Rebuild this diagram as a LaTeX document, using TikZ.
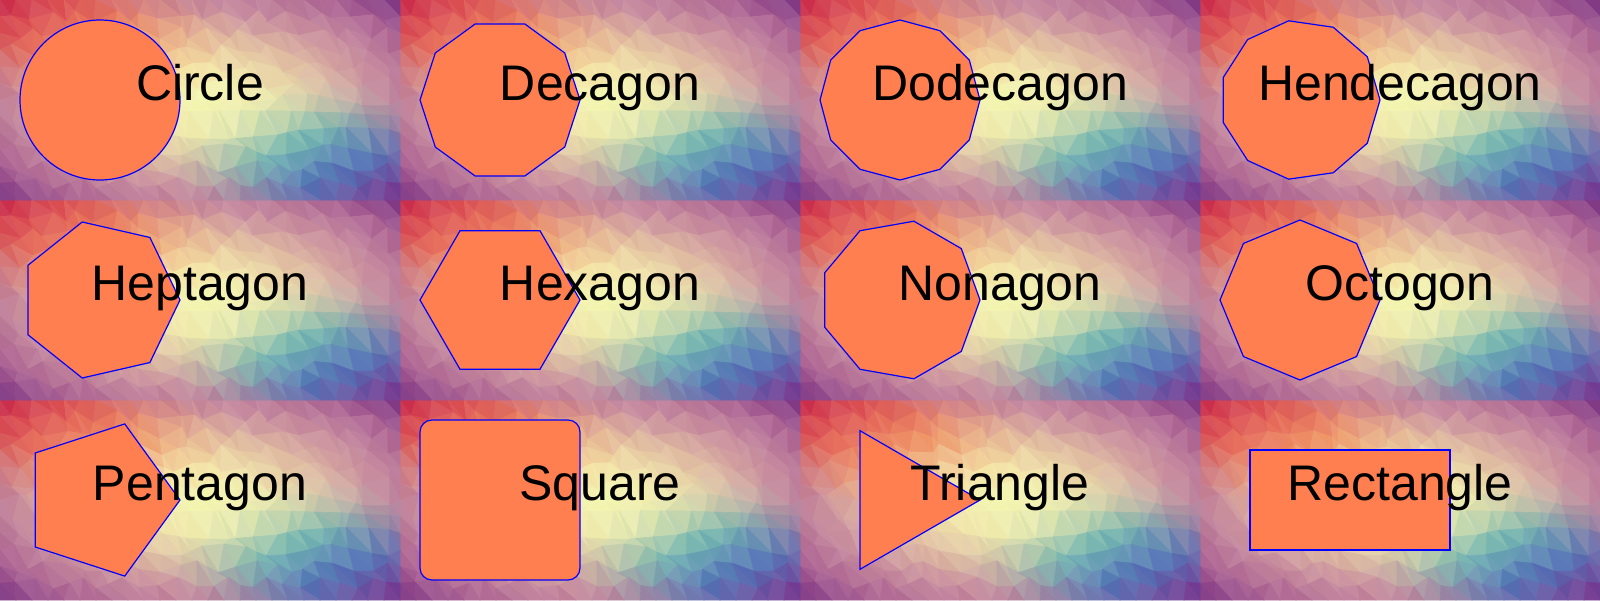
\documentclass[tikz,border=0pt]{standalone}
\usepackage{fontspec}
\setmainfont{Liberation Sans}
\definecolor{shapecoral}{RGB}{255,127,80}
\definecolor{shapeblue}{RGB}{0,0,255}
% radial stops of the background tile (centre to corner)
\definecolor{rad0}{RGB}{242,248,175}
\definecolor{rad1}{RGB}{242,232,170}
\definecolor{rad2}{RGB}{225,190,160}
\definecolor{rad3}{RGB}{203,145,157}
\definecolor{rad4}{RGB}{172,98,145}
\definecolor{rad5}{RGB}{118,45,128}
% rainbow stops along the diagonal
\definecolor{rb0}{RGB}{212,35,65}
\definecolor{rb1}{RGB}{235,95,70}
\definecolor{rb2}{RGB}{246,155,95}
\definecolor{rb3}{RGB}{250,215,150}
\definecolor{rb4}{RGB}{225,248,180}
\definecolor{rb5}{RGB}{95,190,178}
\definecolor{rb6}{RGB}{60,110,185}
\definecolor{rb7}{RGB}{125,45,140}
% jittered grid points of the mosaic
\pgfmathdeclarefunction{jitx}{2}{\pgfmathparse{16*#1+(#1>0)*(#1<25)*(#2>0)*(#2<12)*6*sin(#1*67.3+#2*151.7+#1*#2*23.1)}}
\pgfmathdeclarefunction{jity}{2}{\pgfmathparse{200/12*#2+(#1>0)*(#1<25)*(#2>0)*(#2<12)*6*cos(#1*131.9+#2*97.1+#1*#2*31.3)}}
% colour of the tile at a point of the cell
\newcommand\tilecolor[3]{%
  \pgfmathsetmacro\bgu{(#2-200)/200}%
  \pgfmathsetmacro\bgv{(#3-100)/100}%
  \pgfmathsetmacro\bgr{min(4.9999,veclen(\bgu,\bgv)/1.42*5)}%
  \pgfmathtruncatemacro\bgseg{floor(\bgr)}%
  \pgfmathtruncatemacro\bgnext{\bgseg+1}%
  \pgfmathsetmacro\bgpct{100-100*(\bgr-\bgseg)}%
  \colorlet{bgbase}{rad\bgseg!\bgpct!rad\bgnext}%
  \pgfmathsetmacro\bgt{max(0,min(0.9999,(\bgu+\bgv+2)/4))}%
  \pgfmathtruncatemacro\bgseg{floor(\bgt*7)}%
  \pgfmathtruncatemacro\bgnext{\bgseg+1}%
  \pgfmathsetmacro\bgpct{100-100*(\bgt*7-\bgseg)}%
  \colorlet{bgrain}{rb\bgseg!\bgpct!rb\bgnext}%
  \pgfmathsetmacro\bgd{min(1,abs(\bgu+\bgv))}%
  \pgfmathsetmacro\bgs{max(0,min(1,(abs(\bgu-\bgv)/2-0.1)/0.45))}%
  \pgfmathsetmacro\bgwa{85*\bgd*(1-\bgs*\bgs*(3-2*\bgs))}%
  \pgfmathsetmacro\bgw{100-8*(0.5+0.5*sin(#2*13.1+#3*29.3))}%
  \colorlet{bgtmp}{bgrain!\bgwa!bgbase}%
  \colorlet{#1}{bgtmp!\bgw!white}%
}

\begin{document}
\begin{tikzpicture}[x=1pt,y=-1pt,
  shapefill/.style={fill=shapecoral,draw=shapeblue,line width=1.2},
  shapelabel/.style={font=\fontsize{50}{60}\selectfont,anchor=base,inner sep=0,text=black}]
\useasboundingbox (0,0) rectangle (1600,600);
% Background: one mosaic tile repeated in all twelve cells
\foreach \i in {0,...,24}{
  \foreach \j in {0,...,11}{
    \pgfmathtruncatemacro\ii{\i+1}
    \pgfmathtruncatemacro\jj{\j+1}
    \pgfmathsetmacro\ax{jitx(\i,\j)}\pgfmathsetmacro\ay{jity(\i,\j)}
    \pgfmathsetmacro\bx{jitx(\ii,\j)}\pgfmathsetmacro\by{jity(\ii,\j)}
    \pgfmathsetmacro\cx{jitx(\ii,\jj)}\pgfmathsetmacro\cy{jity(\ii,\jj)}
    \pgfmathsetmacro\dx{jitx(\i,\jj)}\pgfmathsetmacro\dy{jity(\i,\jj)}
    \tilecolor{tria}{(\ax+\bx+\cx)/3}{(\ay+\by+\cy)/3}
    \tilecolor{trib}{(\ax+\cx+\dx)/3}{(\ay+\cy+\dy)/3}
    \foreach \ox in {0,400,800,1200}{
      \foreach \oy in {0,200,400}{
        \filldraw[tria,line width=0.6,line join=round] (\ox+\ax,\oy+\ay) -- (\ox+\bx,\oy+\by) -- (\ox+\cx,\oy+\cy) -- cycle;
        \filldraw[trib,line width=0.6,line join=round] (\ox+\ax,\oy+\ay) -- (\ox+\cx,\oy+\cy) -- (\ox+\dx,\oy+\dy) -- cycle;
      }
    }
  }
}
% Row 1
\draw[shapefill] (100,100) circle (80);
\node[shapelabel] (circle) at (200,100) {Circle};
\draw[shapefill] (580,100) \foreach \k in {1,...,9}{ -- ([shift={(500,100)}]\k*36:80)} -- cycle;
\node[shapelabel] (decagon) at (600,100) {Decagon};
\draw[shapefill] (980,100) \foreach \k in {1,...,11}{ -- ([shift={(900,100)}]\k*30:80)} -- cycle;
\node[shapelabel] (dodecagon) at (1000,100) {Dodecagon};
\draw[shapefill] (1380,100) \foreach \k in {1,...,10}{ -- ([shift={(1300,100)}]\k*360/11:80)} -- cycle;
\node[shapelabel] (hendecagon) at (1400,100) {Hendecagon};
% Row 2
\draw[shapefill] (180,300) \foreach \k in {1,...,6}{ -- ([shift={(100,300)}]\k*360/7:80)} -- cycle;
\node[shapelabel] (heptagon) at (200,300) {Heptagon};
\draw[shapefill] (580,300) \foreach \k in {1,...,5}{ -- ([shift={(500,300)}]\k*60:80)} -- cycle;
\node[shapelabel] (hexagon) at (600,300) {Hexagon};
\draw[shapefill] (980,300) \foreach \k in {1,...,8}{ -- ([shift={(900,300)}]\k*40:80)} -- cycle;
\node[shapelabel] (nonagon) at (1000,300) {Nonagon};
\draw[shapefill] (1380,300) \foreach \k in {1,...,7}{ -- ([shift={(1300,300)}]\k*45:80)} -- cycle;
\node[shapelabel] (octogon) at (1400,300) {Octogon};
% Row 3
\draw[shapefill] (180,500) \foreach \k in {1,...,4}{ -- ([shift={(100,500)}]\k*72:80)} -- cycle;
\node[shapelabel] (pentagon) at (200,500) {Pentagon};
\draw[shapefill,rounded corners=12] (420,420) rectangle (580,580);
\node[shapelabel] (square) at (600,500) {Square};
\draw[shapefill] (980,500) -- ([shift={(900,500)}]120:80) -- ([shift={(900,500)}]240:80) -- cycle;
\node[shapelabel] (triangle) at (1000,500) {Triangle};
\draw[shapefill] (1250,450) rectangle (1450,550);
\node[shapelabel] (rectangle) at (1400,500) {Rectangle};
\end{tikzpicture}
\end{document}
